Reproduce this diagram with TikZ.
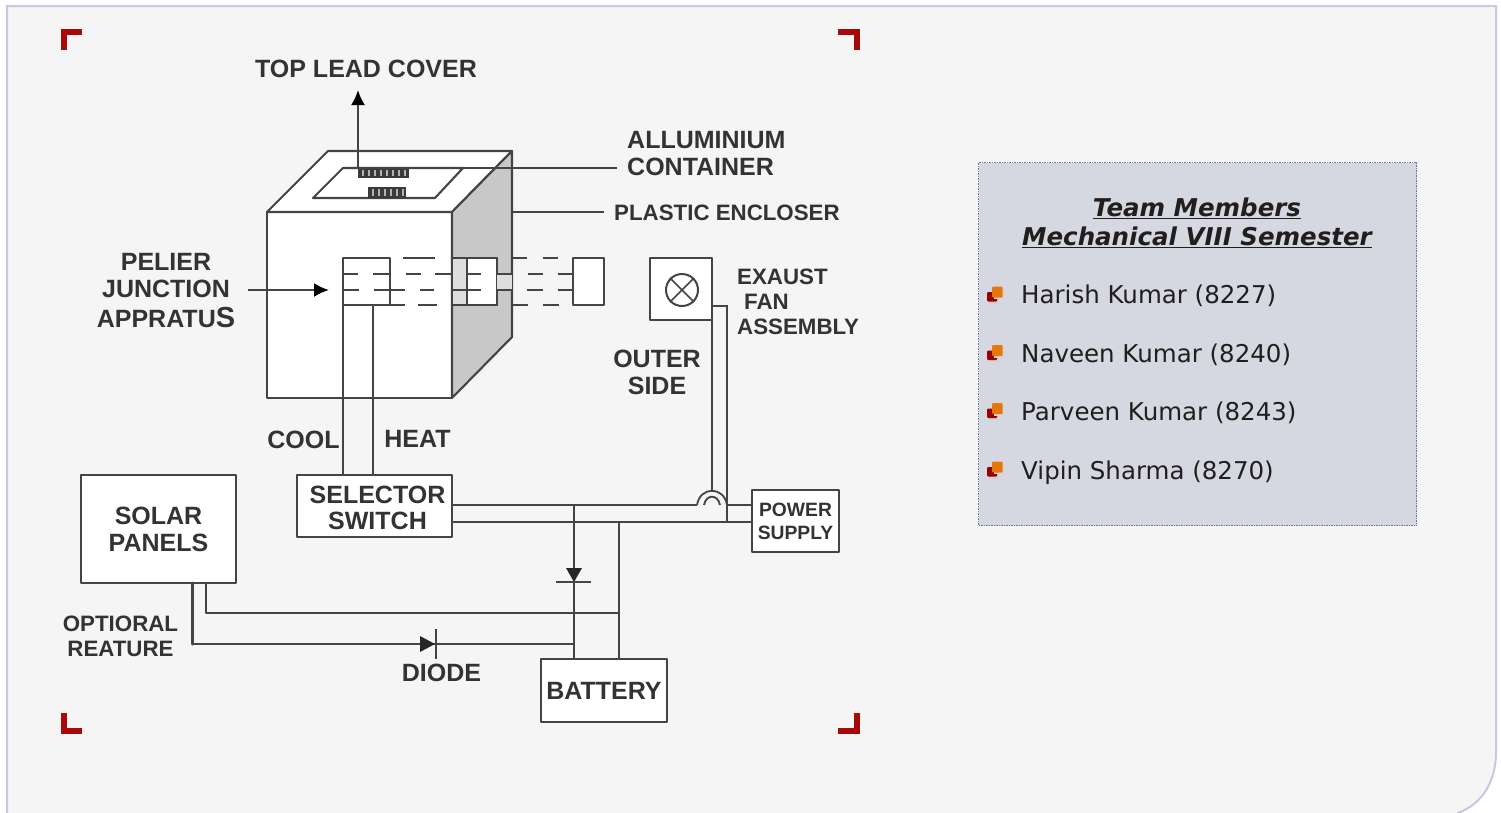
\documentclass[tikz,border=0pt]{standalone}
\usepackage{fontspec}
\setmainfont{Liberation Sans}
\newfontfamily\panelfont{DejaVu Sans}
\usetikzlibrary{arrows.meta,calc}
\definecolor{panelbg}{HTML}{F5F5F5}
\definecolor{panelln}{HTML}{C9C8E2}
\definecolor{boxbg}{HTML}{D5D8E0}
\definecolor{boxln}{HTML}{5B7DB1}
\definecolor{wire}{HTML}{444444}
\definecolor{lbl}{HTML}{333333}
\definecolor{crop}{HTML}{A80808}
\definecolor{bulA}{HTML}{990000}
\definecolor{bulB}{HTML}{E8760F}
\definecolor{side}{HTML}{C8C8C8}
\definecolor{ink}{HTML}{221E1E}
\tikzset{
 wireln/.style={draw=wire,line width=2.1pt},
 block/.style={wireln,fill=white,inner sep=0pt,outer sep=0pt,rectangle,line join=round},
 lab/.style={inner sep=0pt,text=lbl,font=\fontsize{25}{27}\selectfont\bfseries,align=center},
 labs/.style={lab,font=\fontsize{22.3}{25}\selectfont\bfseries},
 cropmark/.style={draw=crop,line width=6pt,line cap=butt,line join=miter},
 dashseg/.style={wireln},
 member/.style={anchor=base west,inner sep=0pt,text=ink,font=\panelfont\fontsize{24.5}{28}\selectfont},
 heading/.style={inner sep=0pt,anchor=base,text=ink,font=\panelfont\fontsize{24.5}{28}\selectfont\bfseries\itshape},
 arrowln/.style={wireln,-{Latex[length=15pt,width=14pt,color=black]}},
}
\newcommand{\bulletmark}[2]{%
 \fill[black!18] (#1+1.5,#2+1.5) rectangle ++(10,10);
 \fill[bulA,rounded corners=1pt] (#1,#2) rectangle ++(10,9.5);
 \fill[black!16] (#1+6.5,#2-4) rectangle ++(11,11);
 \fill[bulB,rounded corners=1pt] (#1+5,#2-5.5) rectangle ++(10.5,11);
}
\begin{document}
\begin{tikzpicture}[x=1pt,y=-1pt]
\useasboundingbox (0,0) rectangle (1501,812);
\fill[white] (0,0) rectangle (1501,812);
% page panel
\path[fill=panelbg,draw=panelln,line width=2pt] (7,830) -- (7,6) -- (1496,6) -- (1496,752) .. controls (1496,782) and (1482,804) .. (1458,813) -- (1440,830) -- cycle;
% crop marks
\draw[cropmark] (64,50) -- (64,32) -- (82,32);
\draw[cropmark] (838,32) -- (857,32) -- (857,50);
\draw[cropmark] (64,713) -- (64,731) -- (82,731);
\draw[cropmark] (838,731) -- (857,731) -- (857,713);
% enclosure
\node[block,minimum width=185pt,minimum height=186pt,anchor=north west] (front) at (267,212) {};
\coordinate (topbl) at (front.north west);
\coordinate (topbr) at (front.north east);
\coordinate (backl) at (328,151);
\coordinate (backr) at (512,151);
\coordinate (backb) at (512,337);
\filldraw[fill=white,draw=wire,line width=2.1pt,line join=round] (topbl) -- (backl) -- (backr) -- (topbr) -- cycle;
\filldraw[fill=side,draw=wire,line width=2.1pt,line join=round] (topbr) -- (backr) -- (backb) -- (front.south east) -- cycle;
\coordinate (capa) at (313,198);
\coordinate (capb) at (435,198);
\coordinate (capc) at (463,168);
\coordinate (capd) at (343,168);
\draw[wireln,line join=round] (capa) -- (capb) -- (capc) -- (capd) -- cycle;
% lead-cover markings
\fill[wire!85!black] (358,168) rectangle (409,178);
\fill[wire!85!black] (368,187) rectangle (406,198);
\foreach \xx in {362,368,...,406} \fill[white!70!black] (\xx,170) rectangle ++(1.6,6);
\foreach \xx in {372,378,...,404} \fill[white!70!black] (\xx,189) rectangle ++(1.6,7);
% top labels and leaders
\node[lab,anchor=center] (tlc) at (366,69) {TOP LEAD COVER};
\coordinate (leadfoot) at (358,168);
\coordinate (leadtip) at (358,90);
\draw[arrowln] (leadfoot) -- (leadtip);
\node[lab,anchor=west,align=left] (alu) at (627,153.5) {ALLUMINIUM\\CONTAINER};
\coordinate (aluend) at (617,168);
\draw[wireln] (capd) -- (aluend);
\node[labs,anchor=west] (pla) at (614,213) {PLASTIC ENCLOSER};
\coordinate (plastart) at (512,212);
\coordinate (plaend) at (604,212);
\draw[wireln] (plastart) -- (plaend);
\node[lab,anchor=center] (pel) at (166,290.5) {PELIER\\JUNCTION\\[3pt]APPRATU{\fontsize{29}{27}\selectfont S}};
% peltier elements
\node[block,minimum width=47pt,minimum height=47pt,anchor=north west,fill=none] (pa) at (343,258) {};
\fill[side!60!white] (452,258) rectangle (467,305);
\node[block,minimum width=45pt,minimum height=47pt,anchor=north west,fill=none] (pb) at (452,258) {};
\fill[white] (467,258) rectangle (497,305);
\draw[wireln] (467,258) -- (497,258) -- (497,305) -- (467,305) -- cycle;
\draw[wireln] (452,258) -- (467,258) (452,305) -- (467,305);
\fill[side!60!white] (497,274) rectangle (512,290);
\node[block,minimum width=31pt,minimum height=47pt,anchor=north west] (pc) at (573,258) {};
% dashes y=258
\foreach \a/\b in {403/435,512/527,543/558} \draw[dashseg] (\a,258) -- (\b,258);
% dashes y=274
\foreach \a/\b in {343/358,373/390,406/421,435/452,467/481,497/512,528/543,558/573} \draw[dashseg] (\a,274) -- (\b,274);
% dashes y=290
\foreach \a/\b in {343/359,374/405,420/434,452/481,497/512,527/543,558/573} \draw[dashseg] (\a,290) -- (\b,290);
% dashes y=305
\foreach \a/\b in {390/405,418/437,512/528,543/559} \draw[dashseg] (\a,305) -- (\b,305);
\coordinate (pelin) at (248,290);
\coordinate (pelout) at (329,290);
\draw[arrowln] (pelin) -- (pelout);
% selector and solar
\node[block,minimum width=155pt,minimum height=62pt,anchor=north west] (sel) at (297,475) {};
\node[lab,font=\fontsize{25}{26}\selectfont\bfseries] (seltxt) at (377.5,508) {SELECTOR\\SWITCH};
\node[block,minimum width=155pt,minimum height=108pt,anchor=north west,align=center,text=lbl,font=\fontsize{25}{27}\selectfont\bfseries] (sol) at (81,475) {SOLAR\\PANELS};
\node[block,minimum width=87pt,minimum height=62pt,anchor=north west,align=center,text=lbl,font=\fontsize{19.3}{23}\selectfont\bfseries] (pow) at (752,490) {POWER\\SUPPLY};
\node[block,minimum width=62pt,minimum height=62pt,anchor=north west] (fan) at (650,258) {};
\node[circle,draw=wire,line width=2pt,minimum size=32pt,inner sep=0pt] (fanc) at (682,290) {};
\draw[wireln,line width=1.5pt] (fanc.north west) -- (fanc.south east) (fanc.north east) -- (fanc.south west);
\node[block,minimum width=126pt,minimum height=63pt,anchor=north west,text=lbl,font=\fontsize{25}{27}\selectfont\bfseries] (bat) at (541,659) {BATTERY};
% wires into the selector
\draw[wireln] (pa.south west) -- (pa.south west |- sel.north);
\coordinate (heatw) at (373,305);
\draw[wireln] (heatw) -- (heatw |- sel.north);
% bus lines
\coordinate (busa) at (452,505);
\coordinate (busb) at (452,522);
\coordinate (arcl) at (697,505);
\coordinate (arcr) at (727,505);
\draw[wireln] (busa) -- (arcl);
\draw[wireln] (arcr) -- (busa -| pow.west);
\draw[wireln] (busb) -- (busb -| pow.west);
% fan wires
\coordinate (fanw) at (712,320);
\coordinate (fanj) at (712,490);
\draw[wireln] (fanw) -- (fanj);
\coordinate (fanr) at (712,306);
\coordinate (fanq) at (727,306);
\coordinate (fane) at (727,522);
\draw[wireln] (fanr) -- (fanq) -- (fane);
\draw[wireln,line width=1.8pt] (arcl) .. controls (700,486) and (724,486) .. (arcr);
\draw[wireln,line width=1.8pt] (704,505) .. controls (706,494) and (718,494) .. (720,505);
% battery wires
\coordinate (bata) at (574,505);
\coordinate (batb) at (619,522);
\draw[wireln] (bata) -- (bata |- bat.north);
\draw[wireln] (batb) -- (batb |- bat.north);
\fill[black!85] (566,568) -- (582,568) -- (574,582) -- cycle;
\draw[wireln] (556,582) -- (591,582);
% solar wires
\coordinate (solb) at (206,583);
\coordinate (sola) at (192,583);
\coordinate (solbc) at (206,613);
\coordinate (solbe) at (619,613);
\draw[wireln,line join=round] (solb) -- (solbc) -- (solbe);
\coordinate (solac) at (192,644);
\coordinate (solae) at (574,644);
\draw[wireln,line join=round] (solac) -- (solae);
\draw[wire,line width=3pt,line cap=round] (sola) -- (solac);
\fill[black!85] (420,636) -- (435,644) -- (420,652) -- cycle;
\draw[wireln] (436,629) -- (436,659);
% labels
\node[lab,anchor=center] (coollb) at (303.5,440) {COOL};
\node[lab,anchor=center] (heatlb) at (417.5,439) {HEAT};
\node[lab,anchor=center] (outer) at (657,372.5) {OUTER\\SIDE};
\node[labs,anchor=west,align=left] (exa) at (737,302) {EXAUST\\\hspace*{7pt}FAN\\ASSEMBLY};
\node[labs,anchor=center] (opt) at (120.5,636) {OPTIORAL\\REATURE};
\node[lab,anchor=center] (dio) at (441.5,673) {DIODE};
% team panel
\path[fill=boxbg,draw=boxln,line width=1pt,dash pattern=on 2pt off 1pt on 1pt off 1pt] (978.5,162.5) rectangle (1416.5,525.5);
\node[heading] (ha) at (1197,216) {\underline{Team Members}};
\node[heading] (hb) at (1197,245) {\underline{Mechanical VIII Semester}};
\bulletmark{987}{292}
\node[member] (m1) at (1021,303) {Harish Kumar (8227)};
\bulletmark{987}{350.5}
\node[member] (m2) at (1021,362) {Naveen Kumar (8240)};
\bulletmark{987}{408.5}
\node[member] (m3) at (1021,420) {Parveen Kumar (8243)};
\bulletmark{987}{467}
\node[member] (m4) at (1021,479) {Vipin Sharma (8270)};
\end{tikzpicture}
\end{document}
